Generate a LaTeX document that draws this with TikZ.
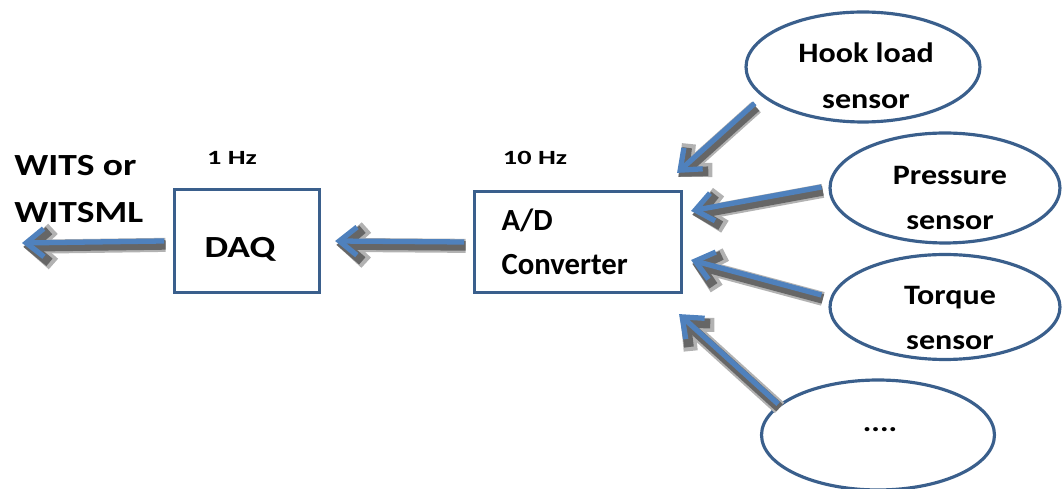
\documentclass[tikz,border=0pt]{standalone}
\usepackage{fontspec}
\setmainfont{Carlito}
\newfontfamily\widefont[FakeStretch=1.22]{Carlito}
\newfontfamily\sensorfont[FakeStretch=1.14]{Carlito}
\newfontfamily\ratefont[FakeStretch=1.4]{Carlito}
\usetikzlibrary{shapes.geometric,arrows.meta}
\definecolor{boxblue}{HTML}{3A5F8C}
\definecolor{flowblue}{HTML}{4F81BD}

\begin{document}
\begin{tikzpicture}[x=0.02cm, y=-0.02cm,
    box/.style={rectangle, draw=boxblue, line width=1.8pt, inner sep=0pt},
    sensor/.style={ellipse, draw=boxblue, line width=1.8pt, inner sep=0pt},
    sensortext/.style={align=center, inner sep=0pt, font=\sensorfont\fontsize{16}{26}\selectfont\bfseries},
    rate/.style={font=\ratefont\fontsize{11.5}{14}\selectfont\bfseries},
    flow/.style={draw=flowblue, line width=3pt, -{Straight Barb[length=10pt, width=16pt]}},
    flowhalo/.style={draw=black!30, line width=8pt, -{Straight Barb[length=11pt, width=20pt]},
      transform canvas={shift={(0.8pt,-2.2pt)}}},
    flowshade/.style={draw=black!60, line width=5.5pt, -{Straight Barb[length=10.5pt, width=18pt]},
      transform canvas={shift={(0.8pt,-2.2pt)}}}]
    \useasboundingbox (0,0) rectangle (1062,489);
    % boxes
    \node[box, minimum width=2.9cm, minimum height=2.06cm, text height=0.68cm, text depth=0pt,
      font=\widefont\fontsize{17.5}{29}\selectfont\bfseries] (daq) at (247,241) {DAQ\hspace*{0.28cm}};
    \node[box, minimum height=2.02cm, text width=3.06cm, inner xsep=0.54cm, align=left,
      font=\fontsize{17.5}{29}\selectfont\bfseries] (ad) at (578,242) {\raisebox{-4pt}{A/D}\\Converter};
    \node[rate] (r1) at (232,158) {1 Hz};
    \node[rate] (r10) at (535,158) {10 Hz};
    \node[anchor=west, align=left, inner sep=0pt, font=\widefont\fontsize{17.5}{27}\selectfont\bfseries] (wits) at (14,189) {WITS or\\WITSML};
    % sensors
    \node[sensor, minimum width=4.68cm, minimum height=2.2cm] (hook) at (863,67) {};
    \node[sensortext] (hooktxt) at (866,76) {Hook load\\sensor};
    \node[sensor, minimum width=4.6cm, minimum height=2.2cm] (press) at (945,188) {};
    \node[sensortext] (presstxt) at (950,198) {Pressure\\sensor};
    \node[sensor, minimum width=4.6cm, minimum height=2.1cm] (torq) at (945,307) {};
    \node[sensortext] (torqtxt) at (950,318) {Torque\\sensor};
    \node[sensor, minimum width=4.66cm, minimum height=2.2cm] (more) at (878,435) {};
    \node[sensortext] (moretxt) at (880,430) {....};
    % arrow ends
    \coordinate (out) at (22,243);
    \coordinate (hookin) at ([shift={(-6,-17)}]ad.north east);
    \coordinate (pressin) at ([shift={(8,21)}]ad.north east);
    \coordinate (torqin) at ([shift={(8,18)}]ad.east);
    \coordinate (morein) at ([shift={(-4,20)}]ad.south east);
    \coordinate (hookout) at ([shift={(-14,2)}]hook.200);
    \coordinate (pressout) at ([shift={(-7,-1)}]press.west);
    \coordinate (torqout) at ([shift={(-7,-12)}]torq.west);
    \coordinate (moreout) at ([shift={(-4,2)}]more.161);
    \coordinate (daqout) at ([xshift=-5pt]daq.west);
    \coordinate (daqin) at ([xshift=8pt]daq.east);
    \coordinate (adout) at ([xshift=-5pt]ad.west);
    % arrows with soft shadow
    \foreach \a/\b in {daqout/out, adout/daqin, hookout/hookin, pressout/pressin, torqout/torqin, moreout/morein} {
      \draw[flowhalo] (\a) -- (\b);
      \draw[flowshade] (\a) -- (\b);
      \draw[flow] (\a) -- (\b);
    }
\end{tikzpicture}
\end{document}
